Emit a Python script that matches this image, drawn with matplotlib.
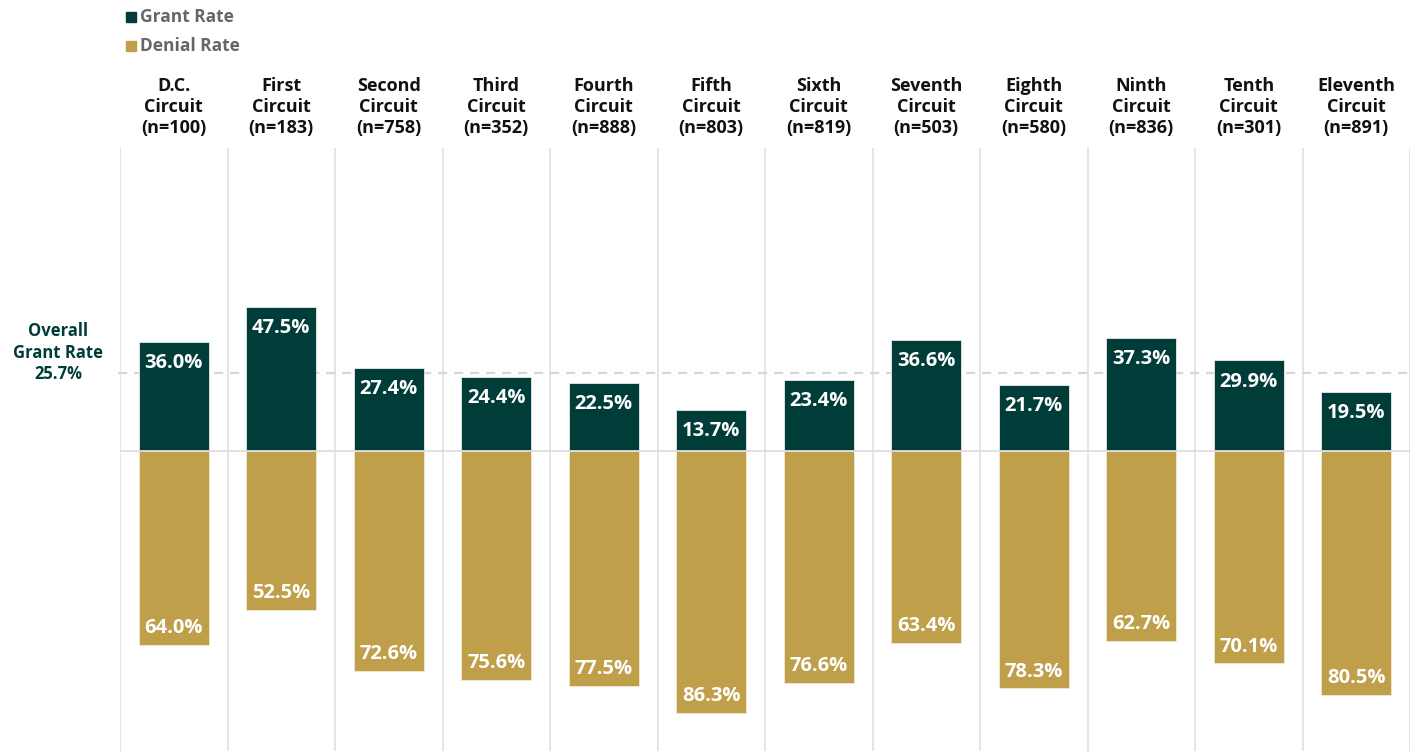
import matplotlib
matplotlib.use("Agg")
import matplotlib.pyplot as plt
from matplotlib.patches import Rectangle

circuits = ["D.C.\nCircuit", "First\nCircuit", "Second\nCircuit", "Third\nCircuit",
            "Fourth\nCircuit", "Fifth\nCircuit", "Sixth\nCircuit", "Seventh\nCircuit",
            "Eighth\nCircuit", "Ninth\nCircuit", "Tenth\nCircuit", "Eleventh\nCircuit"]
counts = [100, 183, 758, 352, 888, 803, 819, 503, 580, 836, 301, 891]
grant_rate = [36.0, 47.5, 27.4, 24.4, 22.5, 13.7, 23.4, 36.6, 21.7, 37.3, 29.9, 19.5]
denial_rate = [64.0, 52.5, 72.6, 75.6, 77.5, 86.3, 76.6, 63.4, 78.3, 62.7, 70.1, 80.5]
overall_grant = 25.7

GREEN = "#003D39"
GOLD = "#C09F4A"
GRID = "#DEDEDE"
FONT = "Open Sans"

plt.rcParams["font.family"] = [FONT, "DejaVu Sans"]

fig = plt.figure(figsize=(14.17, 7.51), dpi=100)
ax = fig.add_axes([120 / 1417, 0, 1290 / 1417, 603 / 751])
n = len(circuits)
ax.set_xlim(0, n)
ax.set_ylim(-99, 100)
ax.axis("off")

# column separators
for i in range(n + 1):
    ax.axvline(i, color=GRID, lw=1.1, zorder=0)

# baseline
ax.axhline(0, color=GRID, lw=1.3, zorder=3)

# overall grant rate reference line
ax.plot([-0.02, n], [overall_grant, overall_grant], color="#D6D6D6", lw=1.6,
        linestyle=(0, (4.2, 3.0)), zorder=1, clip_on=False)

xs = [i + 0.5 for i in range(n)]
bw = 0.65
ax.bar(xs, grant_rate, width=bw, color=GREEN, edgecolor="#E8EDEC", linewidth=0.6, zorder=2)
ax.bar(xs, [-d for d in denial_rate], width=bw, color=GOLD, edgecolor="#F2E9D2",
       linewidth=0.6, zorder=2)

for x, g, d in zip(xs, grant_rate, denial_rate):
    ax.text(x, g - 7.0, f"{g:.1f}%", ha="center", va="center", color="white",
            fontsize=14.5, fontweight="bold", zorder=4)
    ax.text(x, -d + 5.5, f"{d:.1f}%", ha="center", va="center", color="white",
            fontsize=14.5, fontweight="bold", zorder=4)

# column headers
for x, name, c in zip(xs, circuits, counts):
    ax.text(x, 103.7, f"{name}\n(n={c})", ha="center", va="bottom", color="#111111",
            fontsize=13, fontweight="bold", linespacing=1.2, clip_on=False)

# overall label at left
fig.text(58 / 1417, 1 - 353 / 751, "Overall\nGrant Rate\n25.7%", ha="center", va="center",
         color=GREEN, fontsize=12, fontweight="bold", linespacing=1.25)

# legend
for yy, col, lab in [(16, GREEN, "Grant Rate"), (45, GOLD, "Denial Rate")]:
    fig.patches.append(Rectangle((126 / 1417, 1 - (yy + 6) / 751), 10 / 1417, 10 / 751,
                                 transform=fig.transFigure, color=col, figure=fig))
    fig.text(140 / 1417, 1 - (yy + 1) / 751, lab, ha="left", va="center", color="#666666",
             fontsize=12.5, fontweight="bold")

fig.savefig("out.png", dpi=100)
